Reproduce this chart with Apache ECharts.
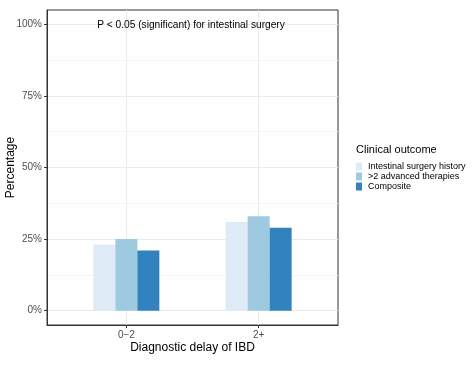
<!DOCTYPE html>
<html><head><meta charset="utf-8">
<script src="https://cdn.jsdelivr.net/npm/echarts@6/dist/echarts.min.js"></script>
<style>html,body{margin:0;padding:0;background:#fff}#c{width:475px;height:370px}</style>
</head><body><div id="c"></div>
<script>
const categories = ['0\u22122', '2+'];
const seriesNames = ['Intestinal surgery history', '>2 advanced therapies', 'Composite'];
const surgery = [23, 31];
const advanced = [25, 33];
const composite = [21, 29];
const yTicks = [0, 25, 50, 75, 100];
const yMinor = [12.5, 37.5, 62.5, 87.5];
const annotation = 'P < 0.05 (significant) for intestinal surgery';
const colors = ['#DEEBF7', '#9ECAE1', '#3182BD'];
const FONT = 'Liberation Sans';

const chart = echarts.init(document.getElementById('c'), null, {renderer: 'canvas'});
const values = [surgery, advanced, composite];
const series = values.map((arr, i) => ({
  name: seriesNames[i],
  type: 'bar',
  barWidth: 22,
  barGap: '0%',
  itemStyle: {color: colors[i]},
  data: arr.map((v, j) => [j + 1, v]),
  xAxisIndex: 0, yAxisIndex: 0
}));
chart.setOption({
  animation: false,
  textStyle: {fontFamily: FONT},
  grid: {left: 47, right: 137, top: 10, bottom: 45, show: true, borderColor: '#333', borderWidth: 1,
         containLabel: false, outerBoundsMode: 'none'},
  title: {text: 'Clinical outcome', left: 356, top: 144, padding: 0,
          textStyle: {fontSize: 11, fontWeight: 'normal', color: '#000', fontFamily: FONT}},
  legend: {
    orient: 'vertical', left: 356, top: 162, padding: 0, itemWidth: 6, itemHeight: 8, itemGap: 1,
    icon: 'rect', data: seriesNames,
    textStyle: {fontSize: 9, color: '#000', fontFamily: FONT, padding: [0,0,0,1], lineHeight: 8}
  },
  xAxis: [{
    type: 'value', min: 0.4, max: 2.6,
    name: 'Diagnostic delay of IBD', nameLocation: 'middle', nameGap: 17, nameMoveOverlap: false,
    nameTextStyle: {fontSize: 12, color: '#000', fontFamily: FONT},
    axisLine: {show: true, onZero: false, lineStyle: {color: '#333'}},
    axisTick: {show: true, length: 3, lineStyle: {color: '#333'}, customValues: [1, 2]},
    axisLabel: {customValues: [1, 2], formatter: v => categories[Math.round(v) - 1] || '', fontSize: 10, color: '#4D4D4D', margin: 5},
    splitLine: {show: true, lineStyle: {color: '#EBEBEB', width: 1}}
  }],
  yAxis: [{
    type: 'value', min: -5, max: 105,
    name: 'Percentage', nameLocation: 'middle', nameGap: 30, nameRotate: 90, nameMoveOverlap: false,
    nameTextStyle: {fontSize: 12, color: '#000', fontFamily: FONT},
    axisLine: {show: true, onZero: false, lineStyle: {color: '#333'}},
    axisTick: {show: true, length: 3, lineStyle: {color: '#333'}, customValues: yTicks},
    axisLabel: {customValues: yTicks, formatter: v => v + '%', fontSize: 10, color: '#4D4D4D', margin: 5},
    splitLine: {show: true, lineStyle: {color: '#EBEBEB', width: 1}}
  }, {
    type: 'value', min: -5, max: 105, position: 'left',
    axisLine: {show: false}, axisLabel: {show: false, customValues: yMinor},
    axisTick: {show: false, customValues: yMinor},
    splitLine: {show: true, lineStyle: {color: '#F4F4F4', width: 1}}
  }],
  graphic: [{
    type: 'text', x: 191, y: 25, z: 100,
    style: {text: annotation, fontSize: 10.2, fill: '#000', fontFamily: FONT, align: 'center', verticalAlign: 'middle'}
  }],
  series: series
});
</script></body></html>
